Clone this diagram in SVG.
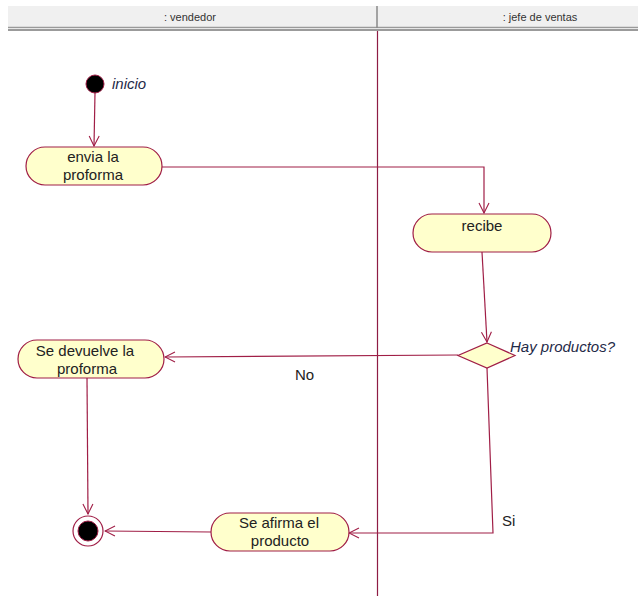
<svg xmlns="http://www.w3.org/2000/svg" width="638" height="596" viewBox="0 0 638 596">
  <style>
    .hdr { fill: #f0f0f0; }
    .hdrtxt { font-family: "Liberation Sans", Arial, sans-serif; font-size: 11px; fill: #333; text-anchor: middle; }
    .lane { stroke: #8e1c44; stroke-width: 1.2; fill: none; }
    .act { fill: #ffffcc; stroke: #a01e46; stroke-width: 1.2; }
    .txt { font-family: "Liberation Sans", Arial, sans-serif; font-size: 15px; fill: #222; text-anchor: middle; }
    .lbl { font-family: "Liberation Sans", Arial, sans-serif; font-size: 15px; fill: #222; }
    .ital { font-style: italic; fill: #1f2a48; }
    .edge { stroke: #a01e46; stroke-width: 1.2; fill: none; }
  </style>
  <defs>
    <marker id="open" viewBox="0 0 12 12" refX="11" refY="6" markerWidth="12" markerHeight="12" markerUnits="userSpaceOnUse" orient="auto">
      <path d="M1,1 L11,6 L1,11" fill="none" stroke="#a01e46" stroke-width="1.1"/>
    </marker>
  </defs>
  <rect width="638" height="596" fill="#ffffff"/>

  <!-- swimlane headers -->
  <g id="lanes">
    <rect class="hdr" x="8" y="6" width="630" height="21"/>
    <line x1="8" y1="27.5" x2="638" y2="27.5" stroke="#9a9a9a" stroke-width="1.5"/>
    <line x1="8" y1="30" x2="638" y2="30" stroke="#7a7a7a" stroke-width="1.5"/>
    <line x1="377" y1="6" x2="377" y2="28" stroke="#8a8a8a" stroke-width="1.5"/>
    <text class="hdrtxt" x="190" y="21">: vendedor</text>
    <text class="hdrtxt" x="540" y="21">: jefe de ventas</text>
    <line class="lane" x1="377.5" y1="31" x2="377.5" y2="596"/>
  </g>

  <!-- connectors -->
  <g id="connectors">
    <polyline class="edge" points="95,93 94,146" marker-end="url(#open)"/>
    <polyline class="edge" points="162,167 484,167 484,213" marker-end="url(#open)"/>
    <polyline class="edge" points="482,252 487,342" marker-end="url(#open)"/>
    <polyline class="edge" points="458,355 165,357" marker-end="url(#open)"/>
    <polyline class="edge" points="87,378 88,514" marker-end="url(#open)"/>
    <polyline class="edge" points="487,368 493,533 349,533" marker-end="url(#open)"/>
    <polyline class="edge" points="211,532 105,531" marker-end="url(#open)"/>
    <text class="lbl" x="295" y="380">No</text>
    <text class="lbl" x="502" y="526">Si</text>
  </g>

  <g id="start">
    <circle cx="95" cy="84" r="9" fill="#000" stroke="#a01e46" stroke-width="1"/>
    <text class="lbl ital" x="112" y="89">inicio</text>
  </g>

  <g id="envia">
    <rect class="act" x="26" y="147" width="136" height="38" rx="19" ry="19"/>
    <text class="txt" x="93" y="162">envia la</text>
    <text class="txt" x="93" y="180">proforma</text>
  </g>

  <g id="recibe">
    <rect class="act" x="413" y="214" width="138" height="38" rx="19" ry="19"/>
    <text class="txt" x="482" y="231">recibe</text>
  </g>

  <g id="decision">
    <polygon class="act" points="487,343 515,355.5 487,368 458,355.5"/>
    <text class="lbl ital" x="510" y="352">Hay productos?</text>
  </g>

  <g id="devuelve">
    <rect class="act" x="18" y="340" width="146" height="38" rx="19" ry="19"/>
    <text class="txt" x="85" y="356">Se devuelve la</text>
    <text class="txt" x="87" y="374">proforma</text>
  </g>

  <g id="afirma">
    <rect class="act" x="211" y="513" width="138" height="38" rx="19" ry="19"/>
    <text class="txt" x="279" y="528">Se afirma el</text>
    <text class="txt" x="280" y="546">producto</text>
  </g>

  <g id="end">
    <circle cx="88" cy="531" r="15" fill="#fff" stroke="#a01e46" stroke-width="1.2"/>
    <circle cx="88" cy="531" r="10" fill="#000" stroke="#a01e46" stroke-width="1"/>
  </g>
</svg>
